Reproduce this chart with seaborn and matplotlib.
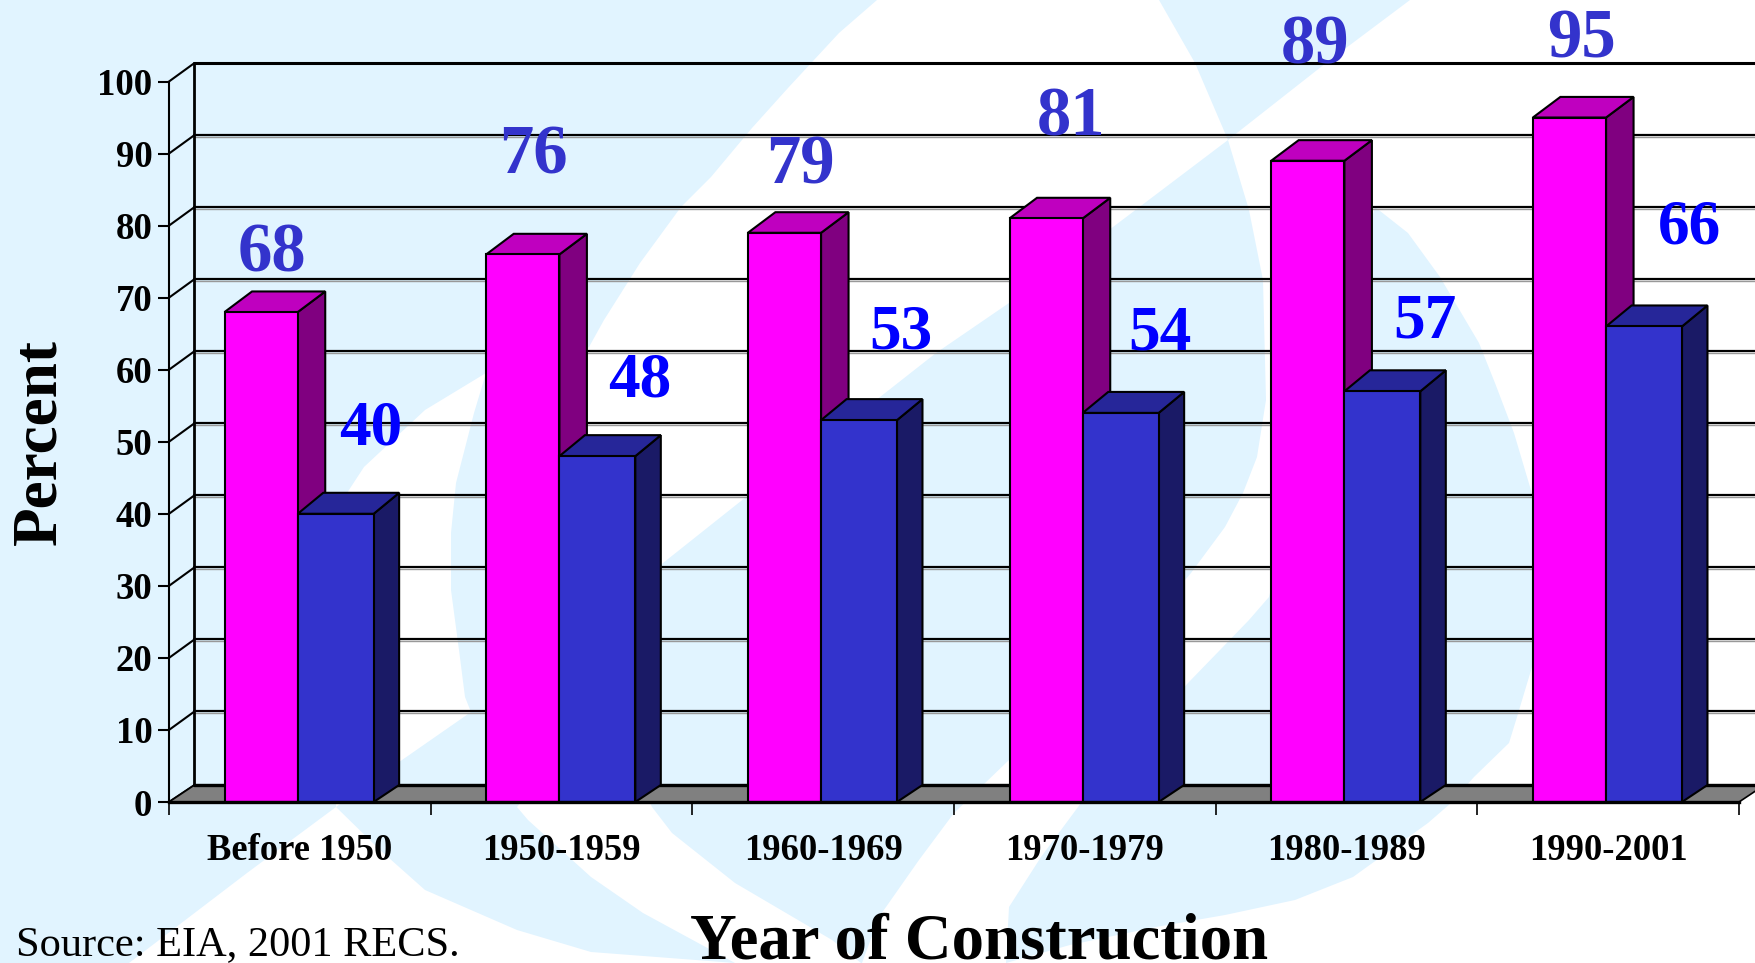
import pandas as pd
import seaborn as sns
import matplotlib.pyplot as plt
from matplotlib.patches import Polygon

# Data
periods = ["Before 1950", "1950-1959", "1960-1969", "1970-1979", "1980-1989", "1990-2001"]
front_values = [68, 76, 79, 81, 89, 95]
back_values = [40, 48, 53, 54, 57, 66]
y_ticks = list(range(0, 101, 10))

# Where the value labels sit in the picture (pixel x centre, pixel baseline)
front_label_pos = [(272, 271), (533, 174), (800, 183), (1071, 135), (1315, 64), (1582, 57)]
back_label_pos = [(371, 444), (640, 396), (901, 348), (1160, 350), (1425, 337), (1690, 244)]

W, H = 1756, 963
SKY = "#E1F4FF"

# Pale swoosh shapes of the slide background, in pixels
swoosh_left = [(0, 0), (877, 0), (839, 33), (788, 88), (752, 128), (711, 177), (681, 207), (640, 263),
               (604, 320), (589, 347), (486, 373), (425, 410), (364, 467), (347, 493), (340, 650),
               (336, 807), (247, 873), (129, 963), (0, 963)]
swoosh_mid = [(486, 373), (474, 413), (456, 483), (451, 533), (451, 590), (459, 650), (465, 697), (471, 712),
              (402, 760), (336, 807), (380, 850), (425, 890), (517, 930), (591, 952), (735, 963),
              (643, 913), (591, 877), (528, 820), (517, 807), (600, 700), (652, 807), (672, 833),
              (735, 883), (832, 940), (861, 963), (862, 963), (879, 917), (919, 860), (954, 813),
              (1009, 760), (1100, 680), (1191, 573), (1225, 527), (1243, 493), (1257, 457), (1266, 400),
              (1263, 280), (1249, 210), (1228, 140), (1195, 63), (1159, 0), (1410, 0), (1326, 63),
              (1228, 140), (1113, 227), (1009, 303), (936, 353), (880, 397), (746, 497), (663, 563),
              (650, 575)]
swoosh_right = [(1375, 207), (1408, 233), (1440, 277), (1479, 343), (1495, 383), (1514, 433), (1533, 497),
                (1545, 600), (1532, 667), (1517, 717), (1509, 743), (1474, 777), (1451, 803), (1428, 823),
                (1353, 877), (1295, 900), (1225, 915), (1156, 927), (1070, 945), (1006, 963), (1009, 907),
                (1041, 857), (1081, 803), (1188, 683), (1220, 650), (1249, 620), (1269, 597), (1320, 400)]

sns.set_theme(style="white")
plt.rcParams["font.family"] = ["Liberation Serif", "DejaVu Serif"]
plt.rcParams["font.weight"] = "bold"

fig = plt.figure(figsize=(W / 100, H / 100), dpi=100, facecolor="white")

# Background layer
bg = fig.add_axes([0, 0, 1, 1], zorder=0)
bg.set_xlim(0, W)
bg.set_ylim(H, 0)
bg.axis("off")
for shape in [swoosh_left, swoosh_mid, swoosh_right]:
    bg.add_patch(Polygon(shape, closed=True, facecolor=SKY, edgecolor="none"))

# Main axes, front plane of the fake 3D box
left, right, top, bottom = 169, 1739, 81.5, 802
ax = fig.add_axes([left / W, 1 - bottom / H, (right - left) / W, (bottom - top) / H], zorder=1)
ax.patch.set_visible(False)

df = pd.DataFrame({
    "period": periods * 2,
    "percent": front_values + back_values,
    "series": ["front"] * len(periods) + ["back"] * len(periods),
})
sns.barplot(data=df, x="period", y="percent", hue="series", palette=["#FF00FF", "#3333CC"],
            width=0.571, gap=0, saturation=1, edgecolor="black", linewidth=1.5, legend=False, ax=ax)

ax.set_xlim(-0.5, 5.5)
ax.set_ylim(0, 100)

# Pixel sizes turned into data units
ux = 6 / (right - left)
uy = 100 / (bottom - top)
wall_dx, wall_dy = 25.5 * ux, 18.5 * uy
floor_dy = 17 * uy

# The pink bars are a little narrower than the blue ones
for bar in ax.containers[0]:
    bar.set_x(bar.get_x() - 0.6 * ux)
    bar.set_width(bar.get_width() - 1.5 * ux)
for bar in ax.containers[1]:
    bar.set_x(bar.get_x() - 2.1 * ux)
    bar.set_width(bar.get_width() + 1.2 * ux)

# Back wall grid lines
for v in y_ticks:
    y = v + wall_dy
    if v == 0:
        y = floor_dy
    lw = 2.2 if v in (0, 100) else 1.6
    if v not in (0, 100):
        ax.plot([-0.5 + wall_dx, 6], [y - 0.22, y - 0.22], color="#999999", lw=1, clip_on=False, zorder=1)
    ax.plot([-0.5 + wall_dx, 6], [y, y], color="black", lw=lw, clip_on=False, zorder=1.1)
    # little diagonal from the front axis to the wall
    ax.plot([-0.5, -0.5 + wall_dx], [v, y], color="black", lw=1.5, clip_on=False, zorder=1.2)
ax.plot([-0.5 + wall_dx] * 2, [floor_dy, 100 + wall_dy], color="black", lw=2, clip_on=False, zorder=1.2)

# Grey floor
ax.add_patch(Polygon([(-0.5, 0), (5.5, 0), (5.5 + wall_dx, floor_dy), (-0.5 + wall_dx, floor_dy)],
                     closed=True, facecolor="#808080", edgecolor="black", lw=1.2, clip_on=False, zorder=1.5))
ax.plot([-0.5 + wall_dx, 6], [floor_dy, floor_dy], color="black", lw=2.4, clip_on=False, zorder=1.6)


def add_depth(bars, dx_px, dy_px, side_color, cap_color, z):
    dx, dy = dx_px * ux, dy_px * uy
    for bar in bars:
        x0, x1, h = bar.get_x(), bar.get_x() + bar.get_width(), bar.get_height()
        ax.add_patch(Polygon([(x1, 0), (x1 + dx, floor_dy), (x1 + dx, h + dy), (x1, h)], closed=True,
                             facecolor=side_color, edgecolor="black", lw=1.5, zorder=z, clip_on=False))
        ax.add_patch(Polygon([(x0, h), (x0 + dx, h + dy), (x1 + dx, h + dy), (x1, h)], closed=True,
                             facecolor=cap_color, edgecolor="black", lw=1.5, zorder=z, clip_on=False))
        bar.set_zorder(z + 0.5)


add_depth(ax.containers[0], 27.5, 20.6, "#800080", "#BF00BF", 3)
add_depth(ax.containers[1], 25.5, 21, "#1A1A66", "#262699", 5)

# Axes look
sns.despine(ax=ax, top=True, right=True)
ax.spines["left"].set_linewidth(1.5)
ax.spines["left"].set_color("black")
ax.spines["bottom"].set_linewidth(2.4)
ax.spines["bottom"].set_color("black")
ax.spines["bottom"].set_zorder(8)

ax.set_yticks(y_ticks)
ax.set_xticks([i - 0.5 for i in range(len(periods) + 1)])
ax.set_xticklabels([])
ax.set_xticks(range(len(periods)), labels=periods, minor=True)
ax.tick_params(axis="y", left=True, length=8, width=1.5, pad=4, labelsize=26.5, color="black", labelcolor="black")
ax.tick_params(axis="x", which="major", bottom=True, length=9.5, width=1.2, color="black")
ax.tick_params(axis="x", which="minor", bottom=False, length=0, pad=22.5, labelsize=26.4, labelcolor="black")
ax.set_xlabel("")
ax.set_ylabel("")

# Value labels
for val, (x, y) in zip(front_values, front_label_pos):
    fig.text(x / W, 1 - y / H, str(val), color="#3333CC", fontsize=49.5, ha="center", va="baseline", zorder=5)
for val, (x, y) in zip(back_values, back_label_pos):
    fig.text(x / W, 1 - y / H, str(val), color="#0000FF", fontsize=45.5, ha="center", va="baseline", zorder=5)

# Titles and source
fig.text(40 / W, 1 - 442 / H, "Percent", color="black", fontsize=45.5, rotation=90, ha="center", va="center", zorder=5)
fig.text(979 / W, 1 - 958 / H, "Year of Construction", color="black", fontsize=46.6, ha="center", va="baseline", zorder=5)
fig.text(16 / W, 1 - 955 / H, "Source: EIA, 2001 RECS.", color="black", fontsize=30.5, fontweight="normal",
         ha="left", va="baseline", zorder=5)

fig.savefig("out.png", dpi=100)
